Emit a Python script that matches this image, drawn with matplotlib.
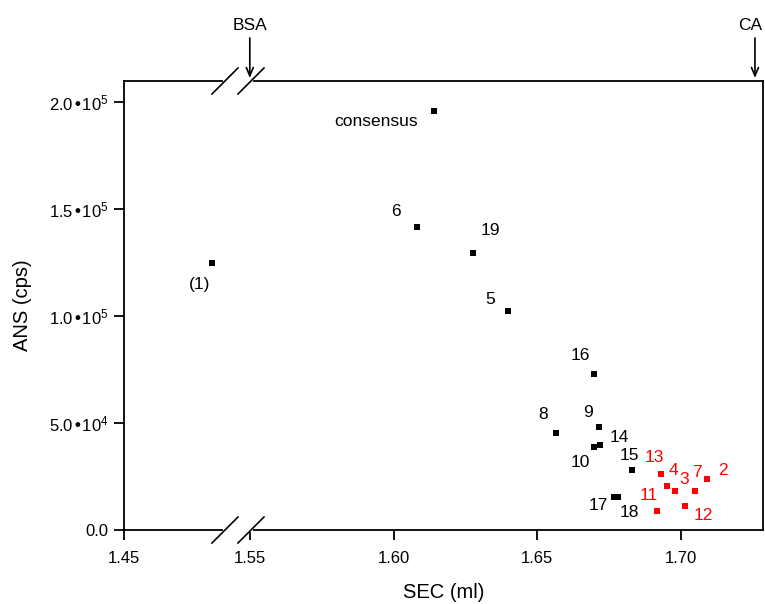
'''SEC vs ANS scatter with broken x axis'''

# ----------------------------------------------------------------------------
# Modules

from matplotlib import pyplot as plt
import numpy as np

# ----------------------------------------------------------------------------
# Data

black_labels = ['(1)', 'consensus', '6', '19', '5', '16', '8', '9', '14',
                '10', '15', '17', '18']
black_sec = [1.520, 1.6142, 1.6082, 1.6275, 1.6398, 1.6696, 1.6565, 1.6716,
             1.6718, 1.6696, 1.6829, 1.6765, 1.6780]
black_ans = [124700, 195900, 141700, 129700, 102200, 72800, 45600, 48000,
             39800, 38900, 28300, 15600, 15300]

red_labels = ['13', '4', '3', '7', '2', '11', '12']
red_sec = [1.6931, 1.6951, 1.6978, 1.7048, 1.7090, 1.6917, 1.7013]
red_ans = [26200, 20800, 18300, 18100, 23800, 8900, 11400]

x_ticks = [1.45, 1.55, 1.60, 1.65, 1.70]
y_ticks = [0, 50000, 100000, 150000, 200000]
y_tick_labels = ['0.0', '5.0\u202210$^4$', '1.0\u202210$^5$',
                 '1.5\u202210$^5$', '2.0\u202210$^5$']

# label offsets in pixels (dx, dy), dy positive upwards
offsets = {'(1)': (-12, -21), 'consensus': (-58, -10), '6': (-21, 16),
           '19': (18, 22), '5': (-18, 12), '16': (-13, 19), '8': (-13, 18),
           '9': (-11, 15), '14': (19, 7), '10': (-13, -16), '15': (-3, 14),
           '17': (-15, -9), '18': (11, -15), '13': (-7, 16), '4': (6, 15),
           '3': (9, 11), '7': (2, 19), '2': (16, 9), '11': (-8, 15),
           '12': (19, -10)}

# ----------------------------------------------------------------------------

BREAK = 1.55
K = 0.4375


def forward(x):
    x = np.asarray(x, dtype=float)
    return np.where(x >= BREAK, x, BREAK - (BREAK - x) * K)


def inverse(u):
    u = np.asarray(u, dtype=float)
    return np.where(u >= BREAK, u, BREAK - (BREAK - u) / K)


def main():

    plt.rcParams['font.family'] = ['Liberation Sans', 'DejaVu Sans']
    plt.rcParams['mathtext.default'] = 'regular'

    figure = plt.figure(figsize=(7.65, 6.04), dpi=100)
    ax = figure.add_axes([0.1621, 0.1225, 0.8353, 0.7434])
    ax.set_xscale('function', functions=(forward, inverse))

    ax.scatter(black_sec, black_ans, marker='s', s=24, color='black',
               linewidths=0, zorder=3)
    ax.scatter(red_sec, red_ans, marker='s', s=24, color='red',
               linewidths=0, zorder=3)

    for lab, x, y in zip(black_labels, black_sec, black_ans):
        ax.annotate(lab, (x, y), xytext=offsets[lab],
                    textcoords='offset pixels', ha='center', va='center',
                    fontsize=12.5, color='black')
    for lab, x, y in zip(red_labels, red_sec, red_ans):
        ax.annotate(lab, (x, y), xytext=offsets[lab],
                    textcoords='offset pixels', ha='center', va='center',
                    fontsize=12.5, color='red')

    ax.set_xlim(1.45, 1.7285)
    ax.set_ylim(0, 210000)
    ax.set_xticks(x_ticks)
    ax.set_xticklabels(['%.2f' % t for t in x_ticks])
    ax.set_yticks(y_ticks)
    ax.set_yticklabels(y_tick_labels)
    ax.tick_params(direction='out', length=7, width=1.3, labelsize=12)
    ax.tick_params(axis='x', pad=8)
    ax.tick_params(axis='y', pad=4)
    for spine in ax.spines.values():
        spine.set_linewidth(1.3)

    ax.set_xlabel('SEC (ml)', fontsize=14.5, labelpad=12)
    ax.set_ylabel('ANS (cps)', fontsize=14.5, labelpad=12)

    # axis break marks
    bx1, bx2 = 0.158, 0.1987
    dx, dy = 13 / 639, 13 / 449
    for yy in (0, 1):
        ax.plot([bx1, bx2], [yy, yy], transform=ax.transAxes, color='white',
                lw=3, clip_on=False, zorder=4)
        for bx in (bx1, bx2):
            ax.plot([bx - dx, bx + dx], [yy - dy, yy + dy],
                    transform=ax.transAxes, color='black', lw=1.2,
                    clip_on=False, zorder=5)

    # BSA and CA markers (CA text nudged left to stay inside the image)
    for name, pos, shift in (('BSA', 1.55, 0), ('CA', 1.7257, -5)):
        tip = (pos, 1.0 + 3 / 449)
        ax.annotate('', xy=tip, xycoords=('data', 'axes fraction'),
                    xytext=(0, 40), textcoords='offset pixels',
                    annotation_clip=False,
                    arrowprops=dict(arrowstyle='->,head_length=0.6,'
                                    'head_width=0.25', lw=1.2, shrinkA=0,
                                    shrinkB=0, color='black'))
        ax.annotate(name, xy=tip, xycoords=('data', 'axes fraction'),
                    xytext=(shift, 52), textcoords='offset pixels',
                    ha='center', va='center', fontsize=12.5,
                    annotation_clip=False)

    figure.savefig('out.png', dpi=100)

    return None

# ----------------------------------------------------------------------------


if __name__ == "__main__":
    main()
